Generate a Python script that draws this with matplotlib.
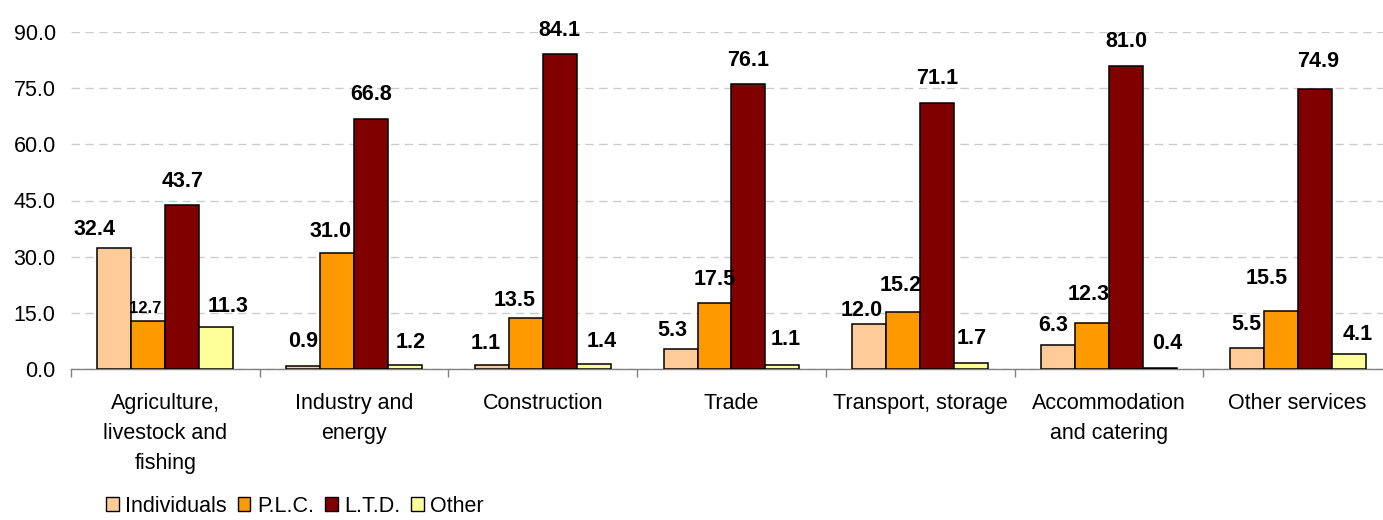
import numpy as np
import matplotlib
matplotlib.use("Agg")
import matplotlib.pyplot as plt
from matplotlib.patches import Patch

plt.rcParams['font.family'] = ['Liberation Sans', 'DejaVu Sans']

# Categorias e series
categories = ['Agriculture,\nlivestock and\nfishing', 'Industry and\nenergy', 'Construction',
              'Trade', 'Transport, storage', 'Accommodation\nand catering', 'Other services']
series_names = ['Individuals', 'P.L.C.', 'L.T.D.', 'Other']
individuals = [32.4, 0.9, 1.1, 5.3, 12.0, 6.3, 5.5]
plc = [12.7, 31.0, 13.5, 17.5, 15.2, 12.3, 15.5]
ltd = [43.7, 66.8, 84.1, 76.1, 71.1, 81.0, 74.9]
other = [11.3, 1.2, 1.4, 1.1, 1.7, 0.4, 4.1]
yticks = [0, 15, 30, 45, 60, 75, 90]

colors = ['#FFCC99', '#FF9900', '#800000', '#FFFF99']

# Pequenos ajustes dos rotulos (pixels), como no original
nudges = {(0, 0): (-20, -6), (0, 1): (-3, -10), (0, 3): (12, -4),
          (1, 1): (-7, -3), (1, 3): (6, -2),
          (2, 0): (-6, -3), (2, 1): (-11, -6), (2, 3): (8, -2),
          (3, 0): (-8, -5), (3, 3): (3, 1),
          (4, 0): (-8, -10), (4, 1): (-3, 3),
          (4, 3): (1, 0),
          (5, 0): (-5, -4), (5, 1): (-3, 4), (5, 3): (7, 0),
          (6, 1): (-14, 8), (6, 2): (3, 3), (6, 3): (9, -5)}
small_labels = {(0, 1)}

W, H = 1383, 520
fig = plt.figure(figsize=(W / 100, H / 100), dpi=100)
ax = fig.add_axes([71 / W, (520 - 369) / H, (1392 - 71) / W, (369 - 32) / H])

data = [individuals, plc, ltd, other]
x = np.arange(len(categories))
bw = 0.18
px_per_pt = 100 / 72

for s, vals in enumerate(data):
    pos = x + (s - 1.5) * bw
    ax.bar(pos, vals, bw, color=colors[s], edgecolor='black', linewidth=1.1, zorder=3)
    for c, v in enumerate(vals):
        dx, dy = nudges.get((c, s), (0, 0))
        small = (c, s) in small_labels
        ax.annotate(f'{v:.1f}', (pos[c], v),
                    xytext=(dx / px_per_pt, (18.5 + dy) / px_per_pt),
                    textcoords='offset points', ha='center', va='baseline',
                    fontsize=12 if small else 15.5, fontweight='bold', zorder=4)

ax.set_xlim(-0.5, len(categories) - 0.5)
ax.set_ylim(0, 90)
ax.set_yticks(yticks)
ax.set_yticklabels([f'{t:.1f}' for t in yticks], fontsize=15.5)
ax.tick_params(axis='y', length=0, pad=11)

ax.set_xticks(x)
ax.set_xticklabels(categories, fontsize=15.5, linespacing=1.58)
ax.tick_params(axis='x', which='major', length=0, pad=17)
ax.set_xticks(np.arange(len(categories) + 1) - 0.5, minor=True)
ax.tick_params(axis='x', which='minor', length=6, width=1, color='#808080', direction='out')

ax.yaxis.grid(True, color='#cccccc', linestyle=(0, (6, 4)), linewidth=1, zorder=0)
for sp in ['left', 'right', 'top']:
    ax.spines[sp].set_visible(False)
ax.spines['bottom'].set_color('#808080')
ax.spines['bottom'].set_linewidth(1)
ax.set_axisbelow(True)

handles = [Patch(facecolor=colors[i], edgecolor='black', linewidth=1, label=series_names[i])
           for i in range(4)]
fig.legend(handles=handles, loc='center left', bbox_to_anchor=(95 / W, 1 - 506 / H),
           ncol=4, frameon=False, fontsize=15.5, handlelength=0.6, handleheight=0.6,
           handletextpad=0.3, columnspacing=0.5, borderpad=0)

fig.savefig('out.png', dpi=100)
